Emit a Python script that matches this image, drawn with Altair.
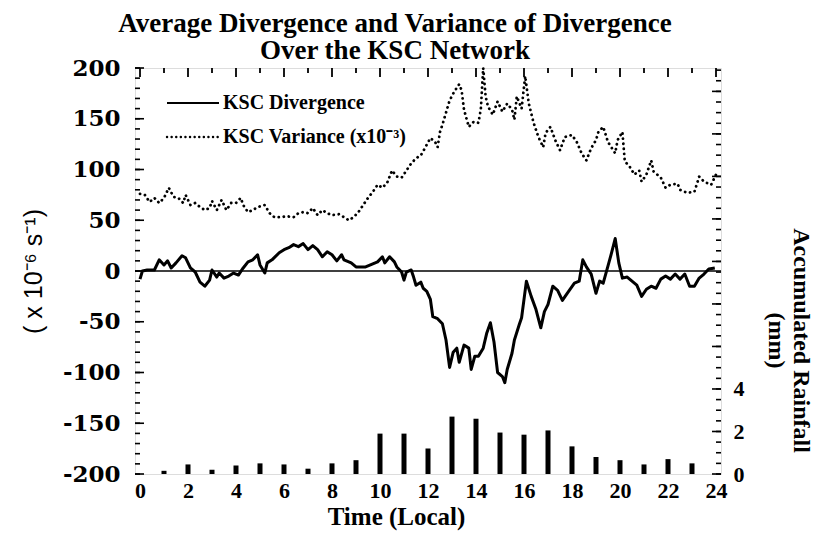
import altair as alt
import pandas as pd

W, H = 586, 406
SERIF = "Liberation Serif"

# ---- data ----
div_hours = [0.0, 0.1, 0.3, 0.6, 0.8, 1.0, 1.15, 1.3, 1.5, 1.75, 1.9, 2.1, 2.3, 2.5, 2.7, 2.9,
             3.0, 3.2, 3.3, 3.5, 3.7, 3.9, 4.1, 4.3, 4.5, 4.7, 4.9, 5.0, 5.2, 5.3, 5.5, 5.8,
             6.0, 6.2, 6.4, 6.6, 6.8, 7.0, 7.2, 7.4, 7.6, 7.8, 8.0, 8.2, 8.4, 8.5, 8.8, 9.0,
             9.2, 9.4, 9.6, 9.9, 10.1, 10.2, 10.4, 10.6, 10.7, 10.9, 11.0, 11.1, 11.3, 11.4,
             11.5, 11.7, 11.8, 11.95, 12.1, 12.2, 12.4, 12.6, 12.75, 12.9, 13.05, 13.2, 13.3,
             13.5, 13.7, 13.8, 13.95, 14.1, 14.3, 14.45, 14.6, 14.75, 14.9, 15.1, 15.2, 15.3,
             15.5, 15.6, 15.8, 15.9, 16.1, 16.3, 16.5, 16.7, 16.85, 17.0, 17.2, 17.4, 17.6,
             17.8, 18.1, 18.3, 18.45, 18.6, 18.8, 19.0, 19.15, 19.3, 19.5, 19.65, 19.8, 19.95,
             20.1, 20.3, 20.5, 20.7, 20.9, 21.1, 21.3, 21.5, 21.7, 21.9, 22.1, 22.3, 22.5,
             22.7, 22.9, 23.1, 23.3, 23.5, 23.7, 23.95]
div_vals = [-8, 0, 1, 1, 11, 6, 10, 3, 8, 15, 13, 3, -1, -11, -15, -9,
            1, -6, -2, -7, -5, -2, -4, 3, 9, 11, 16, 6, -2, 8, 11, 18,
            21, 23, 26, 24, 27, 21, 25, 21, 14, 19, 16, 10, 16, 11, 8, 4,
            4, 4, 6, 9, 14, 8, 14, 9, 4, -1, -9, -1, 1, -6,
            -14, -11, -17, -20, -28, -45, -47, -52, -68, -95, -80, -76, -90,
            -73, -76, -97, -84, -84, -76, -61, -51, -70, -100, -104, -110, -97,
            -81, -68, -53, -46, -10, -25, -38, -56, -40, -33, -15, -19, -29,
            -22, -12, -10, 11, 4, -3, -22, -10, -12, 5, 18, 32, 8,
            -7, -6, -10, -14, -25, -18, -15, -17, -8, -5, -8, -3, -8,
            -3, -15, -15, -7, -3, 2, 3]

var_hours = [0.0, 0.2, 0.4, 0.6, 0.8, 1.0, 1.2, 1.4, 1.6, 1.8, 1.9, 2.1, 2.3, 2.5, 2.7, 2.9,
             3.0, 3.2, 3.4, 3.6, 3.8, 4.0, 4.2, 4.3, 4.5, 4.7, 4.9, 5.2, 5.4, 5.6, 5.9, 6.1,
             6.4, 6.6, 6.8, 7.0, 7.2, 7.4, 7.6, 7.8, 8.0, 8.3, 8.5, 8.7, 8.9, 9.1, 9.3, 9.5,
             9.7, 9.9, 10.1, 10.3, 10.5, 10.7, 10.9, 11.1, 11.3, 11.5, 11.7, 11.8, 12.1, 12.3,
             12.4, 12.5, 12.6, 12.8, 12.9, 13.1, 13.3, 13.4, 13.5, 13.7, 13.9, 14.1, 14.2,
             14.3, 14.4, 14.5, 14.7, 14.9, 15.1, 15.3, 15.5, 15.6, 15.7, 15.9, 16.05, 16.2,
             16.4, 16.6, 16.8, 16.9, 17.1, 17.3, 17.5, 17.7, 18.0, 18.2, 18.4, 18.6, 18.8,
             19.0, 19.1, 19.3, 19.5, 19.8, 19.9, 20.1, 20.2, 20.4, 20.6, 20.8, 20.9, 21.1,
             21.3, 21.4, 21.7, 21.9, 22.1, 22.4, 22.5, 22.8, 23.1, 23.3, 23.5, 23.8, 24.0]
var_vals = [76, 75, 68, 72, 67, 72, 82, 73, 72, 67, 75, 65, 67, 63, 60, 62,
            69, 60, 70, 60, 67, 67, 72, 65, 58, 60, 63, 65, 57, 53, 53, 54,
            53, 57, 58, 57, 62, 55, 60, 57, 55, 56, 53, 50, 53, 58, 65, 72,
            78, 85, 82, 87, 99, 93, 92, 99, 106, 111, 114, 118, 131, 127,
            122, 137, 144, 160, 168, 177, 184, 178, 159, 142, 147, 146, 159,
            200, 172, 162, 154, 167, 157, 165, 159, 149, 172, 160, 192, 165,
            146, 132, 122, 136, 142, 129, 119, 132, 134, 127, 116, 109, 121,
            129, 137, 142, 127, 116, 129, 137, 108, 103, 95, 99, 88, 95,
            109, 98, 92, 82, 85, 86, 80, 77, 78, 93, 88, 85, 95]

rain_hours = [1, 2, 3, 4, 5, 6, 7, 8, 9, 10, 11, 12, 13, 14, 15, 16, 17, 18, 19, 20, 21, 22, 23]
rain_vals = [0.15, 0.45, 0.2, 0.4, 0.5, 0.45, 0.25, 0.5, 0.65, 1.9, 1.9, 1.2, 2.7, 2.6,
             1.95, 1.85, 2.05, 1.3, 0.8, 0.65, 0.45, 0.7, 0.5]

x_labels = [0, 2, 4, 6, 8, 10, 12, 14, 16, 18, 20, 22, 24]
left_labels = [-200, -150, -100, -50, 0, 50, 100, 150, 200]
right_labels = [0, 2, 4]
left_minor = [v for v in range(-200, 201, 10)]
right_major = [0, 2, 4, 6, 8, 10, 12, 14, 16, 18]
right_minor = [i * 0.5 for i in range(0, 39)]
top_major = [0, 2, 4, 6, 8, 10, 12, 14, 16, 18, 20, 22, 24]
top_minor = [1, 3, 5, 7, 9, 11, 13, 15, 17, 19, 21, 23]

title_lines = ["Average Divergence and Variance of Divergence", "Over the KSC Network"]
legend_labels = ["KSC Divergence", "KSC Variance (x10\u207b\u00b3)"]

# ---- tables ----
div_df = pd.DataFrame({"hour": div_hours, "div": div_vals})
var_df = pd.DataFrame({"hour": var_hours, "var": var_vals})
rain_df = pd.DataFrame({"hour": rain_hours, "rain": rain_vals})

xs = alt.Scale(domain=[0, 24], nice=False, zero=False)
ys = alt.Scale(domain=[-200, 200], nice=False)
rs = alt.Scale(domain=[0, 19.1], nice=False)

x_axis = alt.Axis(values=x_labels, format="d", orient="bottom", labelFont=SERIF, labelFontSize=22,
                  labelFontWeight="bold", labelColor="black", tickSize=0, labelPadding=6,
                  domain=False, grid=False, title="Time (Local)", titleFont=SERIF,
                  titleFontSize=25, titleFontWeight="bold", titleColor="black",
                  titleX=261, titleY=50, titleBaseline="alphabetic", titleAlign="center")
y_axis = alt.Axis(values=left_labels, orient="left", labelFont="DejaVu Serif", labelFontSize=23,
                  labelFontWeight="bold", labelColor="black", tickSize=0, labelPadding=15,
                  labelExpr="datum.value < 0 ? '-' + abs(datum.value) : '' + datum.value",
                  domain=False, grid=False, title="( x 10\u207b\u2076 s\u207b\u00b9)",
                  titleFont="Liberation Sans", titleFontSize=25, titleFontWeight="normal",
                  titleColor="black", titleAngle=-90, titleX=-102, titleY=H / 2,
                  titleBaseline="middle", titleAlign="center")
r_axis = alt.Axis(values=right_labels, orient="right", labelFont=SERIF, labelFontSize=22,
                  labelFontWeight="bold", labelColor="black", tickSize=0, labelPadding=12,
                  domain=False, grid=False, title=["Accumulated Rainfall", "(mm)"],
                  titleFont=SERIF, titleFontSize=24, titleFontWeight="bold", titleColor="black",
                  titleAngle=90, titleX=79, titleY=272, titleBaseline="middle",
                  titleAlign="center", titleLineHeight=25)

one = pd.DataFrame({"a": [0]})

div_line = alt.Chart(div_df).mark_line(color="black", strokeWidth=3, strokeJoin="round").encode(
    x=alt.X("hour:Q", scale=xs, axis=x_axis),
    y=alt.Y("div:Q", scale=ys, axis=y_axis))

zero = alt.Chart(pd.DataFrame({"div": [0]})).mark_rule(color="black", strokeWidth=1.3).encode(
    y=alt.Y("div:Q", scale=ys, axis=y_axis))

var_line = alt.Chart(var_df).mark_line(color="black", strokeWidth=2.8, strokeCap="round",
                                       strokeDash=[0.1, 5]).encode(
    x=alt.X("hour:Q", scale=xs, axis=x_axis),
    y=alt.Y("var:Q", scale=ys, axis=y_axis))

lt_minor = alt.Chart(pd.DataFrame({"v": left_minor})).mark_rule(color="black", strokeWidth=1.6).encode(
    y=alt.Y("v:Q", scale=ys, axis=y_axis), x=alt.value(0), x2=alt.value(5))
lt_major = alt.Chart(pd.DataFrame({"v": left_labels})).mark_rule(color="black", strokeWidth=1.6).encode(
    y=alt.Y("v:Q", scale=ys, axis=y_axis), x=alt.value(0), x2=alt.value(9))

tt_major = alt.Chart(pd.DataFrame({"h": top_major})).mark_rule(color="black", strokeWidth=1.8).encode(
    x=alt.X("h:Q", scale=xs, axis=x_axis), y=alt.value(0), y2=alt.value(9))
tt_minor = alt.Chart(pd.DataFrame({"h": top_minor})).mark_rule(color="black", strokeWidth=1.8).encode(
    x=alt.X("h:Q", scale=xs, axis=x_axis), y=alt.value(0), y2=alt.value(5))

leg_solid = alt.Chart(one).mark_rule(color="black", strokeWidth=2).encode(
    x=alt.value(32), x2=alt.value(84), y=alt.value(35))
leg_dot = alt.Chart(one).mark_rule(color="black", strokeWidth=2.4, strokeCap="round",
                                   strokeDash=[0.1, 4.5]).encode(
    x=alt.value(32), x2=alt.value(84), y=alt.value(69))
leg_t1 = alt.Chart(one).mark_text(align="left", baseline="middle", font=SERIF, fontSize=20,
                                  fontWeight="bold", color="black").encode(
    x=alt.value(88), y=alt.value(35), text=alt.value(legend_labels[0]))
leg_t2 = alt.Chart(one).mark_text(align="left", baseline="middle", font=SERIF, fontSize=20,
                                  fontWeight="bold", color="black").encode(
    x=alt.value(88), y=alt.value(69), text=alt.value(legend_labels[1]))

rain_bars = alt.Chart(rain_df).mark_bar(color="black", size=5).encode(
    x=alt.X("hour:Q", scale=xs, axis=x_axis),
    y=alt.Y("rain:Q", scale=rs, axis=r_axis))
rt_minor = alt.Chart(pd.DataFrame({"v": right_minor})).mark_rule(color="black", strokeWidth=1.6).encode(
    y=alt.Y("v:Q", scale=rs, axis=r_axis), x=alt.value(W), x2=alt.value(W - 5))
rt_major = alt.Chart(pd.DataFrame({"v": right_major})).mark_rule(color="black", strokeWidth=1.6).encode(
    y=alt.Y("v:Q", scale=rs, axis=r_axis), x=alt.value(W), x2=alt.value(W - 9))

left_layer = alt.layer(div_line, zero, var_line, lt_minor, lt_major, tt_major, tt_minor,
                       leg_solid, leg_dot, leg_t1, leg_t2)
right_layer = alt.layer(rain_bars, rt_minor, rt_major)

chart = alt.layer(left_layer, right_layer).resolve_scale(y="independent").properties(
    width=W, height=H,
    padding={"left": 127, "top": 60, "right": 101, "bottom": 61},
    autosize=alt.AutoSizeParams(type="none"),
    title=alt.TitleParams(text=title_lines, font=SERIF, fontSize=27, fontWeight="bold",
                          color="black", anchor="middle", dx=-33, dy=11, offset=3, lineHeight=27),
).configure_view(stroke="black", strokeWidth=2.2).configure(background="white")

chart.save("out.html", embed_options={"renderer": "svg", "actions": False})
